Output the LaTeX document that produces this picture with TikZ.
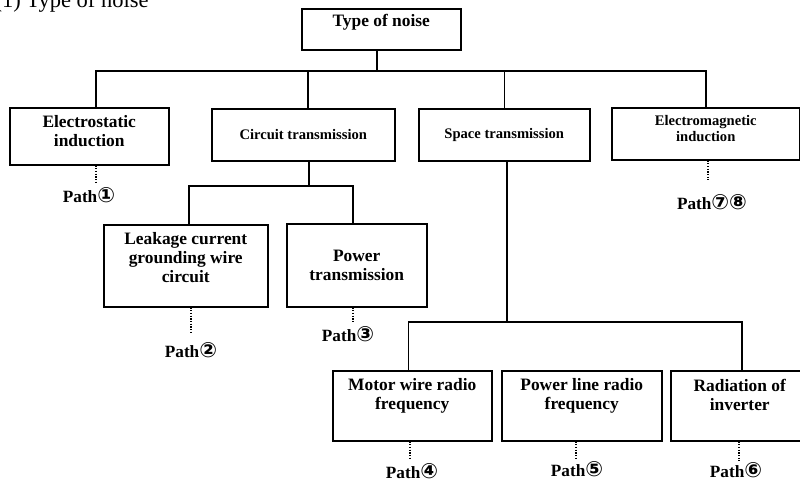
\documentclass[tikz,border=0pt]{standalone}
\usepackage{fontspec}
\setmainfont{Liberation Serif}
\newfontfamily\circfont{DejaVu Sans}
\usetikzlibrary{calc}
\newcommand{\cnum}[1]{{\circfont\fontsize{21}{21}\selectfont #1}}

\begin{document}
\begin{tikzpicture}[
            x=1pt, y=-1pt,
            box/.style={rectangle, draw, line width=1.5pt, inner sep=0pt, align=center, anchor=north west, font=\fontsize{17.4}{19}\selectfont\bfseries},
            boxs/.style={box, font=\fontsize{14.6}{16.5}\selectfont\bfseries},
            conn/.style={line width=1.5pt},
            dots/.style={line width=1.5pt, dash pattern=on 1.2pt off 1.5pt},
            pathlbl/.style={anchor=base, inner sep=1pt, font=\fontsize{17.2}{18}\selectfont\bfseries}
        ]
        \useasboundingbox (0,0) rectangle (800,483);

        \node[anchor=base west, font=\fontsize{22.5}{24}\selectfont] (title) at (-9,7.5) {(1) Type of noise};

        %% ── NIVEAU 1 : type de bruit ─────────────────────────
        \node[box, minimum width=159, minimum height=41, text depth=18.5] (root) at (301,8) {Type of noise};

        \node[box, minimum width=159, minimum height=57, text depth=11] (es) at (9,107) {Electrostatic\\induction};
        \node[boxs, minimum width=183, minimum height=52] (ct) at (211,108) {Circuit transmission};
        \node[boxs, minimum width=171, minimum height=52] (st) at (418,108) {Space transmission};
        \node[boxs, minimum width=188, minimum height=52, text depth=11] (em) at (611,107) {Electromagnetic\\induction};

        %% ── NIVEAU 2 : transmission par circuit ──────────────
        \node[box, minimum width=164, minimum height=82, text depth=16] (lk) at (103,224) {Leakage current\\grounding wire\\circuit};
        \node[box, minimum width=140, minimum height=83] (pt) at (286,223) {Power\\transmission};

        %% ── NIVEAU 3 : transmission dans l'espace ────────────
        \node[box, minimum width=159, minimum height=70, text depth=23.5] (mo) at (332,370) {Motor wire radio\\frequency};
        \node[box, minimum width=160, minimum height=70, text depth=23.5] (pl) at (501,370) {Power line radio\\frequency};
        \node[box, minimum width=138, minimum height=70, text depth=22] (ra) at (670,370) {Radiation of\\inverter};

        %% Chemins
        \node[pathlbl] (p1) at (89,202) {Path\cnum{①}};
        \node[pathlbl] (p78) at (712,209) {Path\cnum{⑦⑧}};
        \node[pathlbl] (p2) at (191,357) {Path\cnum{②}};
        \node[pathlbl] (p3) at (348,341) {Path\cnum{③}};
        \node[pathlbl] (p4) at (412,478) {Path\cnum{④}};
        \node[pathlbl] (p5) at (577,476) {Path\cnum{⑤}};
        \node[pathlbl] (p6) at (736,477) {Path\cnum{⑥}};

        %% ── LIGNES DE L'ARBRE ────────────────────────────────
        \coordinate (top) at (377,71);
        \coordinate (mid) at (309,186);
        \coordinate (low) at (507,322);

        \draw[conn] (root.south -| top) -- (top);
        \draw[conn] ([xshift=6.5]es.north) |- (top) -| (em.north);
        \draw[conn] ([xshift=4.5]ct.north) -- ([xshift=4.5]ct.north |- top);
        \draw[conn] (st.north) -- (st.north |- top);

        \draw[conn] (ct.south -| mid) -- (mid);
        \draw[conn] ([xshift=3]lk.north) |- (mid) -| ([xshift=-4]pt.north);

        \draw[conn] (st.south -| low) -- (low);
        \draw[conn] ([xshift=-4]mo.north) |- (low) -| ([xshift=2]ra.north);

        % pointillés vers les chemins
        \draw[dots, shorten >=1.5] ([xshift=6.5]es.south) -- ([xshift=6.5]es.south |- p1.north);
        \draw[dots, shorten >=12.5] ([xshift=2]em.south) -- ([xshift=2]em.south |- p78.north);
        \draw[dots, shorten >=7.5] ([xshift=5]lk.south) -- ([xshift=5]lk.south |- p2.north);
        \draw[dots, shorten >=3.5] ([xshift=-4]pt.south) -- ([xshift=-4]pt.south |- p3.north);
        \draw[dots, shorten >=3.5] ([xshift=-2.5]mo.south) -- ([xshift=-2.5]mo.south |- p4.north);
        \draw[dots] ([xshift=-6]pl.south) -- ([xshift=-6]pl.south |- p5.north);
        \draw[dots] ([xshift=-1]ra.south) -- ([xshift=-1]ra.south |- p6.north);

\end{tikzpicture}
\end{document}
